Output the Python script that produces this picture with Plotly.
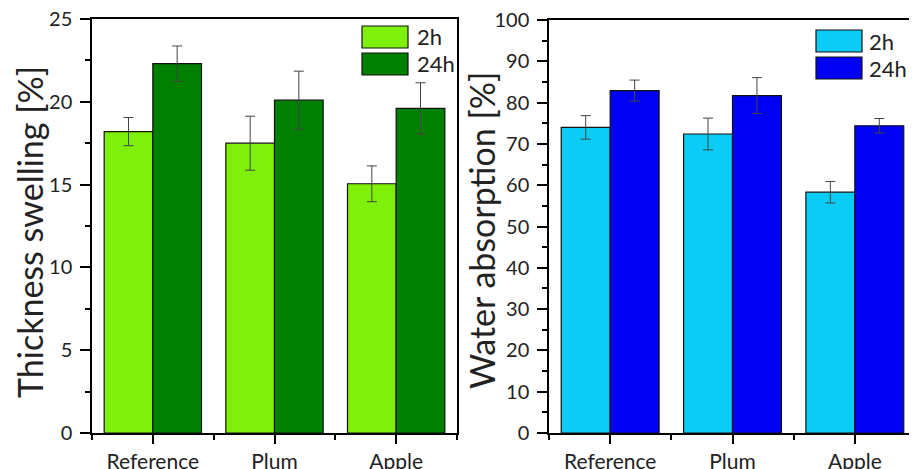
import plotly.graph_objects as go
from plotly.subplots import make_subplots

categories = ["Reference", "Plum", "Apple"]
series_names = ["2h", "24h"]
y_titles = ["Thickness swelling [%]", "Water absorption [%]"]

ts_2h = [18.2, 17.5, 15.05]
ts_2h_err = [0.85, 1.63, 1.08]
ts_24h = [22.3, 20.1, 19.6]
ts_24h_err = [1.07, 1.75, 1.55]

wa_2h = [74.0, 72.4, 58.3]
wa_2h_err = [2.85, 3.85, 2.6]
wa_24h = [82.9, 81.7, 74.4]
wa_24h_err = [2.55, 4.35, 1.75]

green_colors = ["#7FF00A", "#008000"]
blue_colors = ["#0ACCF5", "#0000F5"]

FONT = "Lato"
OFF = 8  # page body margin
W, H = 917 - OFF, 469 - OFF

fig = make_subplots(rows=1, cols=2)
xpos = list(range(len(categories)))

def add_bars(col, vals, errs, colors):
    for name, v, e, c in zip(series_names, vals, errs, colors):
        fig.add_trace(go.Bar(
            x=xpos, y=v, name=name,
            marker=dict(color=c, line=dict(color="#111111", width=1.2)),
            error_y=dict(type="data", array=e, visible=True, color="#444444",
                         thickness=1, width=5),
            showlegend=False,
        ), row=1, col=col)

add_bars(1, [ts_2h, ts_24h], [ts_2h_err, ts_24h_err], green_colors)
add_bars(2, [wa_2h, wa_24h], [wa_2h_err, wa_24h_err], blue_colors)

def px_x(p):
    return (p - OFF) / W

def px_y(p):
    return 1 - (p - OFF) / H

axis_common = dict(showline=True, linecolor="black", linewidth=1.5, mirror=True,
                   showgrid=False, zeroline=False, ticks="outside", automargin=False,
                   tickcolor="black", tickwidth=1.5, ticklabeloverflow="allow")

fig.update_xaxes(**axis_common, range=[-0.5, 2.5], tickvals=xpos, ticktext=categories,
                 ticklen=9, tickfont=dict(family=FONT, size=21, color="#222222"),
                 minor=dict(tickvals=[-0.5, 0.5, 1.5, 2.5], ticklen=5, ticks="outside",
                            tickcolor="black", tickwidth=1.5))
fig.update_xaxes(domain=[px_x(92), px_x(457)], row=1, col=1)
fig.update_xaxes(domain=[px_x(549), px_x(916)], row=1, col=2)

fig.update_yaxes(**axis_common, ticklen=10, ticklabelstandoff=4,
                 tickfont=dict(family=FONT, size=20, color="#222222"))
fig.update_yaxes(domain=[px_y(433), px_y(19)], range=[0, 25], dtick=5, tick0=0,
                 minor=dict(dtick=2.5, ticklen=5, ticks="outside", tickcolor="black", tickwidth=1.5),
                 row=1, col=1)
fig.update_yaxes(domain=[px_y(433), px_y(20)], range=[0, 100], dtick=10, tick0=0,
                 minor=dict(dtick=5, ticklen=5, ticks="outside", tickcolor="black", tickwidth=1.5),
                 row=1, col=2)

# y-axis titles as rotated annotations
for text, (cx, cy) in zip(y_titles, [(29, 232), (481, 230)]):
    fig.add_annotation(xref="paper", yref="paper", x=px_x(cx), y=px_y(cy),
                       text=text, textangle=-90, showarrow=False,
                       xanchor="center", yanchor="middle",
                       font=dict(family=FONT, size=34, color="#222222"))

# manual legends (boxes + labels)
legend_specs = [
    (362, 408, [(26, 48), (53, 75)], green_colors, 415),
    (816, 862, [(30, 52), (57, 79)], blue_colors, 867),
]
for x0, x1, rows, colors, tx in legend_specs:
    for (y0, y1), c, name in zip(rows, colors, series_names):
        fig.add_shape(type="rect", xref="paper", yref="paper",
                      x0=px_x(x0), x1=px_x(x1), y0=px_y(y1), y1=px_y(y0),
                      fillcolor=c, line=dict(color="#111111", width=1.2))
        fig.add_annotation(xref="paper", yref="paper", x=px_x(tx), y=px_y((y0 + y1) / 2),
                           text=name, showarrow=False, xanchor="left", yanchor="middle",
                           font=dict(family=FONT, size=22, color="#222222"))

fig.update_layout(width=W, height=H, margin=dict(l=0, r=0, t=0, b=0),
                  paper_bgcolor="white", plot_bgcolor="white",
                  barmode="group", bargap=0.2, bargroupgap=0,
                  showlegend=False)

fig.write_html("out.html")
